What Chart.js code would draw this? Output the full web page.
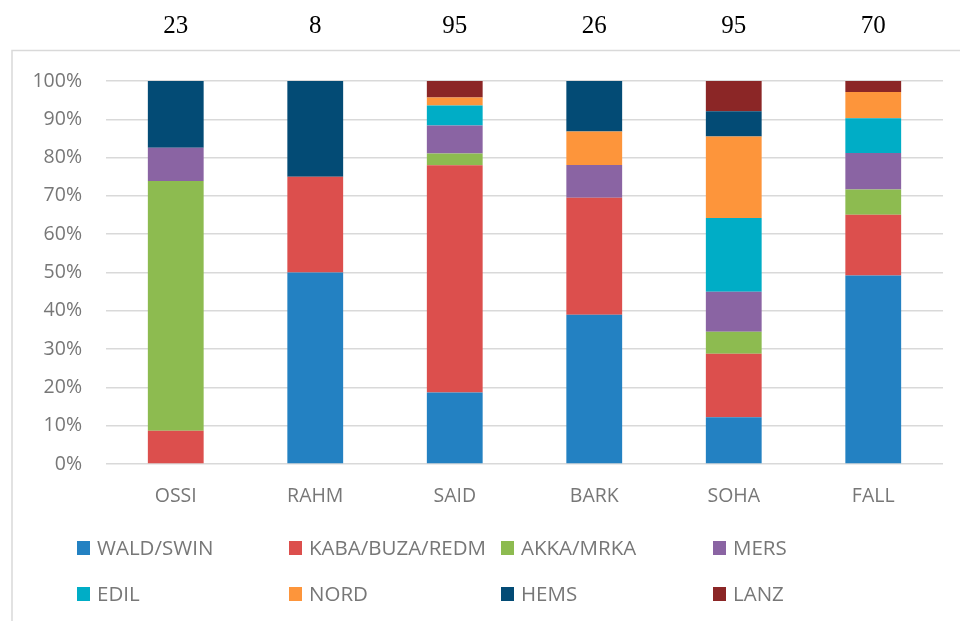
<!DOCTYPE html>
<html>
<head>
<meta charset="utf-8">
<title>Stacked 100% chart</title>
<style>
*{padding:0;margin:0;box-sizing:border-box}
html,body{width:960px;height:621px;background:#ffffff;overflow:hidden}
.wrapper{position:absolute;left:0;top:0;width:960px;height:621px}
</style>
</head>
<body>
<div class="wrapper">
<canvas id="myChart" width="960" height="621"></canvas>
</div>
<script src="https://cdn.jsdelivr.net/npm/chart.js"></script>
<script>
// categories and the n shown above each bar
const categories = ['OSSI', 'RAHM', 'SAID', 'BARK', 'SOHA', 'FALL'];
const counts = [23, 8, 95, 26, 95, 70];

// share (%) of each group per category
const seriesNames = ['WALD/SWIN', 'KABA/BUZA/REDM', 'AKKA/MRKA', 'MERS', 'EDIL', 'NORD', 'HEMS', 'LANZ'];
const waldSwin = [0, 50, 18.7, 39.0, 12.2, 49.2];
const kabaBuzaRedm = [8.7, 25, 59.3, 30.5, 16.6, 15.9];
const akkaMrka = [65.2, 0, 3.1, 0, 5.7, 6.6];
const mers = [8.7, 0, 7.3, 8.6, 10.5, 9.5];
const edil = [0, 0, 5.2, 0, 19.2, 9.1];
const nord = [0, 0, 2.1, 8.7, 21.3, 6.8];
const hems = [17.4, 25, 0, 13.2, 6.6, 0];
const lanz = [0, 0, 4.3, 0, 7.9, 2.9];

const yTicks = [0, 10, 20, 30, 40, 50, 60, 70, 80, 90, 100];

const colors = ['#2381c2', '#dc4f4d', '#8dbb50', '#8a64a3', '#00adc6', '#fd953b', '#034b75', '#8b2626'];
const seriesData = [waldSwin, kabaBuzaRedm, akkaMrka, mers, edil, nord, hems, lanz];

const grayText = '#777777';
const gridColor = '#d9d9d9';

const datasets = seriesNames.map((name, i) => ({
  label: name,
  data: seriesData[i],
  backgroundColor: colors[i],
  borderWidth: 0,
  barPercentage: 0.4,
  categoryPercentage: 1,
}));

// frame, counts above bars, and the legend grid at the bottom
const extras = {
  id: 'extras',
  beforeDraw(chart) {
    const c = chart.ctx;
    c.save();
    c.strokeStyle = gridColor;
    c.lineWidth = 1.5;
    c.strokeRect(12, 50.5, 1200, 1200);
    c.restore();
  },
  afterDraw(chart) {
    const c = chart.ctx;
    const x = chart.scales.x;
    c.save();
    c.fillStyle = '#000000';
    c.font = '25px "Liberation Serif"';
    c.textAlign = 'center';
    c.textBaseline = 'middle';
    categories.forEach((cat, i) => {
      c.fillText(String(counts[i]), x.getPixelForValue(i), 26);
    });

    c.font = '20.5px "Open Sans"';
    c.textAlign = 'left';
    chart.data.datasets.forEach((ds, i) => {
      const col = i % 4;
      const row = Math.floor(i / 4);
      const bx = 77 + col * 212;
      const cy = 548 + row * 46;
      c.fillStyle = ds.backgroundColor;
      c.fillRect(bx, cy - 7, 13, 14);
      c.fillStyle = grayText;
      c.fillText(ds.label, bx + 20, cy + 1);
    });
    c.restore();
  },
};

Chart.defaults.font.family = '"Open Sans"';
Chart.defaults.color = grayText;

const ctx = document.getElementById('myChart').getContext('2d');
const myChart = new Chart(ctx, {
  type: 'bar',
  data: {
    labels: categories,
    datasets: datasets,
  },
  options: {
    responsive: false,
    animation: false,
    plugins: {
      legend: { display: false },
      tooltip: { enabled: false },
    },
    layout: {
      padding: { left: 0, right: 17, top: 81, bottom: 0 },
    },
    scales: {
      x: {
        stacked: true,
        grid: { display: false },
        border: { display: false },
        ticks: {
          padding: 13,
          color: grayText,
          font: { size: 19.5 },
        },
        afterFit: (scale) => { scale.height = 157; },
      },
      y: {
        stacked: true,
        min: 0,
        max: 100,
        afterBuildTicks: (scale) => { scale.ticks = yTicks.map(v => ({ value: v })); },
        grid: {
          color: gridColor,
          lineWidth: 1.5,
          drawTicks: false,
        },
        border: { display: false },
        ticks: {
          padding: 24,
          color: grayText,
          font: { size: 19.5 },
          callback: (value) => value + '%',
        },
        afterFit: (scale) => { scale.width = 106; },
      },
    },
  },
  plugins: [extras],
});
</script>
</body>
</html>
